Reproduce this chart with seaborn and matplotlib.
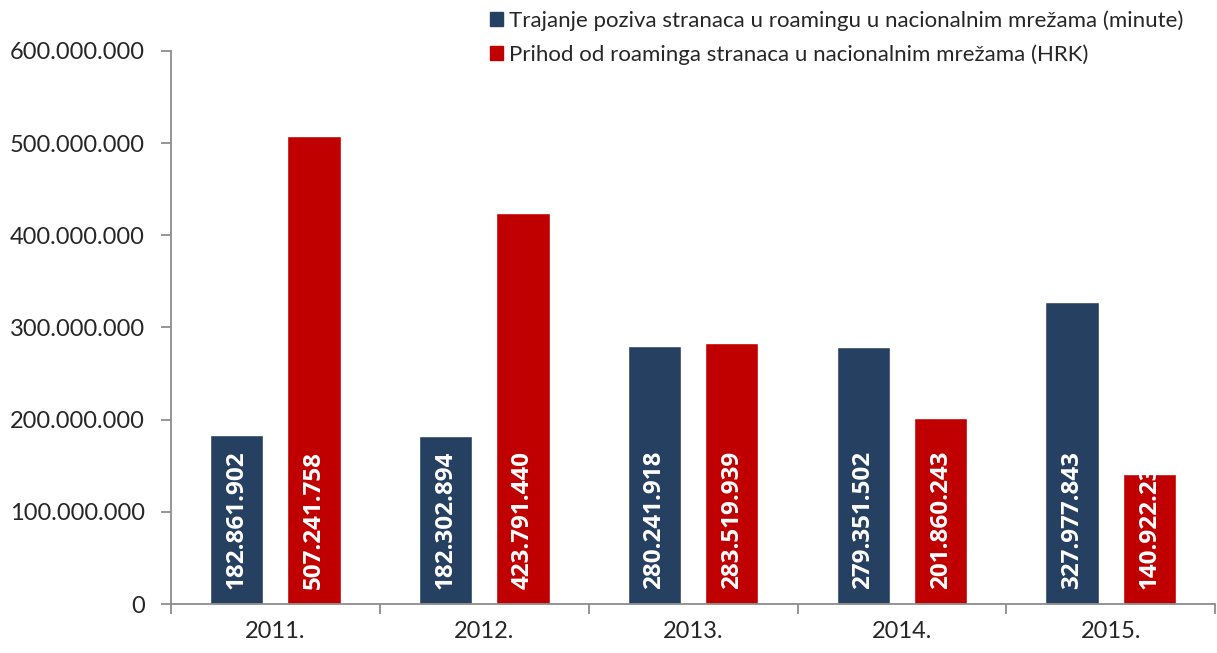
import pandas as pd
import matplotlib
matplotlib.use("Agg")
import matplotlib.pyplot as plt
import seaborn as sns
from matplotlib.ticker import FuncFormatter, FixedLocator

# --------------------------
# Data
# --------------------------

years = ["2011.", "2012.", "2013.", "2014.", "2015."]
minutes = [182861902, 182302894, 280241918, 279351502, 327977843]
revenue = [507241758, 423791440, 283519939, 201860243, 140922230]

series_names = [
    "Trajanje poziva stranaca u roamingu u nacionalnim mrežama (minute)",
    "Prihod od roaminga stranaca u nacionalnim mrežama (HRK)",
]
colors = ["#264061", "#C00000"]

df = pd.DataFrame({
    "year": years * 2,
    "value": minutes + revenue,
    "series": [series_names[0]] * len(years) + [series_names[1]] * len(years),
})

def dots(v, pos=None):
    return f"{int(round(v)):,}".replace(",", ".")

# --------------------------
# Plot
# --------------------------

sns.set_style("white")
plt.rcParams["font.family"] = ["Lato", "DejaVu Sans"]

fig = plt.figure(figsize=(12.17, 6.53), dpi=100)
ax = fig.add_axes([0.1405, 0.075, 0.858, 0.847])

sns.barplot(
    data=df, x="year", y="value", hue="series",
    palette=colors, width=0.74, gap=0.31,
    saturation=1, legend=False, ax=ax, errorbar=None,
)

ax.set_ylim(0, 600000000)
ax.set_xlim(-0.5, len(years) - 0.5)
ax.yaxis.set_major_formatter(FuncFormatter(dots))
ax.set_yticks(range(0, 600000001, 100000000))
ax.set_xlabel("")
ax.set_ylabel("")

# value labels inside bars, clipped to bar
for cont in ax.containers:
    for bar in cont:
        h = bar.get_height()
        t = ax.annotate(
            dots(h),
            (bar.get_x() + bar.get_width() / 2, 0),
            xytext=(0, 11), textcoords="offset points",
            rotation=90, ha="center", va="bottom",
            color="white", fontsize=17.5, fontweight="bold",
            family=["Open Sans", "DejaVu Sans"],
        )
        t.set_clip_path(bar)

# spines & ticks
for s in ["top", "right"]:
    ax.spines[s].set_visible(False)
for s in ["left", "bottom"]:
    ax.spines[s].set_color("#8c8c8c")
    ax.spines[s].set_linewidth(1.3)

ax.tick_params(axis="y", direction="out", length=7, width=1.3,
               color="#8c8c8c", labelsize=17, pad=12, left=True)
ax.tick_params(axis="x", which="major", length=0, labelsize=17, pad=12)
ax.xaxis.set_minor_locator(FixedLocator([i - 0.5 for i in range(len(years) + 1)]))
ax.tick_params(axis="x", which="minor", direction="out", length=7,
               width=1.3, color="#8c8c8c", bottom=True)

# legend
handles = [plt.Rectangle((0, 0), 1, 1, color=c) for c in colors]
fig.legend(
    handles, series_names, loc="upper left",
    bbox_to_anchor=(0.386, 1.015), frameon=False,
    fontsize=16, handlelength=0.6, handleheight=0.6,
    handletextpad=0.25, labelspacing=0.6,
)

plt.savefig("out.png", dpi=100)
